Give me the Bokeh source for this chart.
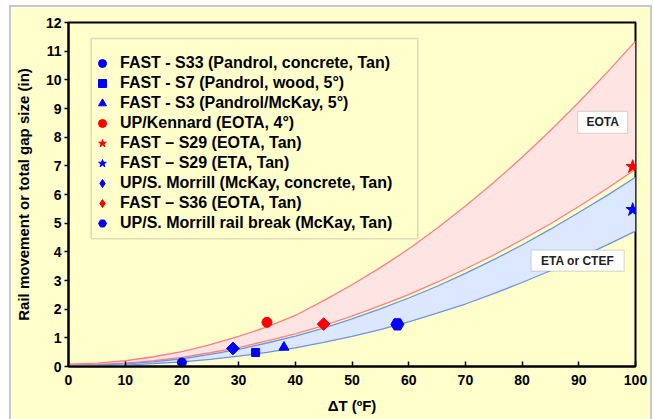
import math
from bokeh.plotting import figure
from bokeh.models import Range1d, FixedTicker, BoxAnnotation, Label, ColumnDataSource
from bokeh.embed import file_html
from bokeh.resources import INLINE

# ---- data ----
dt = [0, 5, 10, 15, 20, 25, 30, 35, 40, 45, 50, 55, 60, 65, 70, 75, 80, 85, 90, 95, 100]
eota_upper = [0.08, 0.12, 0.2, 0.34, 0.52, 0.76, 1.05, 1.38, 1.78, 2.3, 2.85, 3.45, 4.1,
              4.82, 5.6, 6.42, 7.3, 8.23, 9.22, 10.26, 11.35]
eota_lower = [0.05, 0.07, 0.12, 0.2, 0.32, 0.48, 0.66, 0.89, 1.14, 1.43, 1.76, 2.12, 2.51,
              2.94, 3.4, 3.89, 4.42, 4.98, 5.58, 6.21, 6.88]
eta_upper = [0.03, 0.05, 0.09, 0.16, 0.27, 0.42, 0.6, 0.82, 1.06, 1.34, 1.66, 2.01, 2.39,
             2.8, 3.25, 3.73, 4.24, 4.79, 5.37, 5.97, 6.6]
eta_lower = [0.02, 0.03, 0.05, 0.1, 0.16, 0.25, 0.36, 0.49, 0.65, 0.84, 1.05, 1.29, 1.56,
             1.86, 2.18, 2.54, 2.93, 3.34, 3.79, 4.24, 4.72]

series_names = [
    "FAST - S33 (Pandrol, concrete, Tan)",
    "FAST - S7 (Pandrol, wood, 5°)",
    "FAST - S3 (Pandrol/McKay, 5°)",
    "UP/Kennard (EOTA, 4°)",
    "FAST \u2013 S29 (EOTA, Tan)",
    "FAST \u2013 S29 (ETA, Tan)",
    "UP/S. Morrill (McKay, concrete, Tan)",
    "FAST \u2013 S36 (EOTA, Tan)",
    "UP/S. Morrill rail break (McKay, Tan)",
]
series_x = [20, 33, 38, 35, 99.5, 99.5, 29, 45, 58]
series_y = [0.14, 0.49, 0.67, 1.54, 6.97, 5.47, 0.63, 1.48, 1.47]
markers = ["circle", "square", "triangle", "circle", "star", "star", "diamond", "diamond", "hex"]
colors = ["#0000FF", "#0000FF", "#0000FF", "#FF0000", "#FF0000", "#0000FF", "#0000FF", "#FF0000", "#0000FF"]
sizes = [9, 8, 10, 10, 14, 14, 9, 9, 13]

x_ticks = [0, 10, 20, 30, 40, 50, 60, 70, 80, 90, 100]
y_ticks = [0, 1, 2, 3, 4, 5, 6, 7, 8, 9, 10, 11, 12]

BG = "#FFFFCC"
FONT = "Liberation Sans"

p = figure(width=639, height=412, output_backend="svg", toolbar_location=None,
           x_range=Range1d(0, 100), y_range=Range1d(0, 12),
           min_border_left=57, min_border_right=15, min_border_top=15, min_border_bottom=53,
           background_fill_color=BG, border_fill_color=BG)
p.margin = (7, 3, 0, 11)
p.styles = {"outline": "2px solid #c8c8c8"}

p.grid.visible = False
p.outline_line_color = "black"
p.outline_line_width = 2

src = ColumnDataSource(dict(x=dt, eu=eota_upper, el=eota_lower, bu=eta_upper, bl=eta_lower))
p.varea(x="x", y1="el", y2="eu", source=src, fill_color="#FFE4E4")
p.varea(x="x", y1="bl", y2="bu", source=src, fill_color="#DCE8FF")
p.line(x="x", y="eu", source=src, line_color="#FF7F7F", line_width=1.3)
p.line(x="x", y="el", source=src, line_color="#FF7F7F", line_width=1.3)
p.line(x="x", y="bu", source=src, line_color="#6E93E6", line_width=1.3)
p.line(x="x", y="bl", source=src, line_color="#6E93E6", line_width=1.3)

for name, xx, yy, m, c, s in zip(series_names, series_x, series_y, markers, colors, sizes):
    if m == "diamond":
        # legend entry uses the diamond marker; the point itself is a rotated square
        p.scatter([float("nan")], [float("nan")], marker="diamond", size=s,
                  fill_color=c, line_color=c, legend_label=name)
        p.scatter([xx], [yy], marker="square", size=s, angle=math.radians(45),
                  fill_color=c, line_color=c)
    else:
        p.scatter([xx], [yy], marker=m, size=s, fill_color=c, line_color=c, legend_label=name)

# axes
for ax in (p.xaxis[0], p.yaxis[0]):
    ax.axis_line_width = 2
    ax.axis_line_color = "black"
    ax.major_tick_line_width = 1.5
    ax.major_tick_line_color = "black"
    ax.minor_tick_line_color = None
    ax.major_label_text_font = FONT
    ax.major_label_text_font_style = "bold"
    ax.major_label_text_font_size = "14px"
    ax.major_label_text_color = "black"
    ax.axis_label_text_font = FONT
    ax.axis_label_text_font_style = "bold"
    ax.axis_label_text_font_size = "15px"
    ax.axis_label_text_color = "black"

p.xaxis.ticker = FixedTicker(ticks=x_ticks)
p.yaxis.ticker = FixedTicker(ticks=y_ticks)
p.xaxis.major_tick_in = 5
p.xaxis.major_tick_out = 0
p.xaxis.major_label_standoff = 8
p.xaxis.axis_label = "\u0394T (ºF)"
p.xaxis.axis_label_standoff = 9
p.yaxis.major_tick_in = 0
p.yaxis.major_tick_out = 4
p.yaxis.major_label_standoff = 3
p.yaxis.axis_label = "Rail movement or total gap size (in)"
p.yaxis.axis_label_standoff = 11

lg = p.legend[0]
lg.location = (24, 133)
lg.background_fill_alpha = 0
lg.border_line_alpha = 0
lg.padding = 0
lg.spacing = 0
lg.margin = 0
lg.label_height = 20
lg.glyph_height = 20
lg.glyph_width = 20
lg.label_standoff = 8
lg.label_text_font = FONT
lg.label_text_font_style = "bold"
lg.label_text_font_size = "16px"
lg.label_text_color = "black"

# legend frame
p.add_layout(BoxAnnotation(left=4.0, right=61.6, top=11.44, bottom=4.46,
                           fill_alpha=0, line_color="#8C8C8C", line_width=1.5))

# region labels
p.add_layout(BoxAnnotation(left=89.8, right=98.6, top=8.9, bottom=8.13,
                           fill_color="white", fill_alpha=1, line_color="#8C8C8C", line_width=1.2))
p.add_layout(Label(x=94.2, y=8.515, text="EOTA", text_align="center", text_baseline="middle",
                   text_font=FONT, text_font_style="bold", text_font_size="12px", text_color="#222222"))
p.add_layout(BoxAnnotation(left=81.6, right=98.0, top=4.06, bottom=3.33,
                           fill_color="white", fill_alpha=1, line_color="#8C8C8C", line_width=1.2))
p.add_layout(Label(x=89.8, y=3.695, text="ETA or CTEF", text_align="center", text_baseline="middle",
                   text_font=FONT, text_font_style="bold", text_font_size="12px", text_color="#222222"))

open("out.html", "w").write(file_html(p, INLINE))
